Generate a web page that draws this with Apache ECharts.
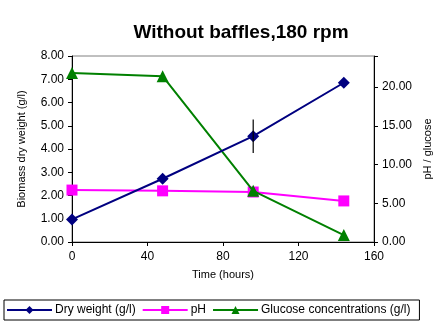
<!DOCTYPE html>
<html><head><meta charset="utf-8">
<script src="https://cdn.jsdelivr.net/npm/echarts@6/dist/echarts.min.js"></script>
<style>html,body{margin:0;padding:0;background:#fff}#c{width:443px;height:334px}</style>
</head><body><div id="c"></div>
<script>
const timeHours = [0, 48, 96, 144];
const dryWeight = [0.97, 2.72, 4.55, 6.85];
const dryWeightErr = [0, 0, 0.72, 0];
const pH = [6.7, 6.6, 6.45, 5.3];
const glucose = [21.8, 21.4, 6.6, 0.9];
const xTicks = [0, 40, 80, 120, 160];
const leftTicks = [0, 1, 2, 3, 4, 5, 6, 7, 8];
const rightTicks = [0, 5, 10, 15, 20];

const font = 'Liberation Sans, Arial, sans-serif';
const chart = echarts.init(document.getElementById('c'));
chart.setOption({
  animation: false,
  title: {text: 'Without baffles,180 rpm', left: 236, top: 18, textAlign: 'center',
    textStyle: {fontFamily: font, fontWeight: 'bold', fontSize: 19, color: '#000'}},
  grid: {left: 72, right: 69, top: 56, bottom: 92, show: true, borderColor: '#808080', borderWidth: 1},
  legend: {left: 4, top: 300, padding: [4, 9, 4, 2], borderColor: '#000', borderWidth: 1,
    itemWidth: 45, itemHeight: 10, itemGap: 6,
    textStyle: {fontFamily: font, fontSize: 12, color: '#000', padding: [0, 0, 0, -2]},
    data: ['Dry weight (g/l)', 'pH', 'Glucose concentrations (g/l)']},
  xAxis: {type: 'value', min: xTicks[0], max: xTicks[xTicks.length-1], interval: 40,
    name: 'Time (hours)', nameLocation: 'middle', nameGap: 27,
    nameTextStyle: {fontFamily: font, fontSize: 11, color: '#000'},
    axisLine: {lineStyle: {color: '#000'}}, axisTick: {inside: false, length: 4, lineStyle: {color: '#000'}},
    splitLine: {show: false},
    axisLabel: {fontFamily: font, fontSize: 12, color: '#000', margin: 9}},
  yAxis: [
    {type: 'value', min: leftTicks[0], max: leftTicks[leftTicks.length-1], interval: 1,
     name: 'Biomass dry weight (g/l)', nameLocation: 'middle', nameGap: 45, nameRotate: 90,
     nameTextStyle: {fontFamily: font, fontSize: 11, color: '#000'},
     axisLine: {show: true, lineStyle: {color: '#000'}}, axisTick: {show: true, length: 4, lineStyle: {color: '#000'}},
     splitLine: {show: false},
     axisLabel: {fontFamily: font, fontSize: 12, color: '#000', margin: 8, formatter: v => v.toFixed(2)}},
    {type: 'value', min: 0, max: 24, interval: 5, position: 'right',
     name: 'pH / glucose', nameLocation: 'middle', nameGap: 46, nameRotate: 90,
     nameTextStyle: {fontFamily: font, fontSize: 11, color: '#000'},
     axisLine: {show: true, lineStyle: {color: '#000'}},
     axisTick: {show: true, length: 4, lineStyle: {color: '#000'}, interval: (i, v) => rightTicks.indexOf(Number(v)) >= 0},
     splitLine: {show: false},
     axisLabel: {fontFamily: font, fontSize: 12, color: '#000', margin: 8,
       formatter: v => rightTicks.indexOf(v) >= 0 ? v.toFixed(2) : ''}}
  ],
  series: [
    {name: 'Dry weight (g/l)', type: 'line', yAxisIndex: 0, data: timeHours.map((t, i) => [t, dryWeight[i]]),
     symbol: 'diamond', symbolSize: 12, itemStyle: {color: '#000080'}, lineStyle: {color: '#000080', width: 2}, z: 5},
    {name: 'pH', type: 'line', yAxisIndex: 1, data: timeHours.map((t, i) => [t, pH[i]]),
     symbol: 'rect', symbolSize: 11, itemStyle: {color: '#FF00FF'}, lineStyle: {color: '#FF00FF', width: 2}, z: 3},
    {name: 'Glucose concentrations (g/l)', type: 'line', yAxisIndex: 1, data: timeHours.map((t, i) => [t, glucose[i]]),
     symbol: 'triangle', symbolSize: 12, itemStyle: {color: '#008000'}, lineStyle: {color: '#008000', width: 2}, z: 4},
    {name: 'err', type: 'custom', yAxisIndex: 0, z: 6,
     data: timeHours.map((t, i) => [t, dryWeight[i] - dryWeightErr[i], dryWeight[i] + dryWeightErr[i]]).filter((d, i) => dryWeightErr[i] > 0),
     renderItem: (params, api) => {
       const lo = api.coord([api.value(0), api.value(1)]);
       const hi = api.coord([api.value(0), api.value(2)]);
       return {type: 'line', shape: {x1: lo[0], y1: lo[1], x2: hi[0], y2: hi[1]}, style: {stroke: '#000', lineWidth: 1.2}};
     }}
  ]
});
</script></body></html>
